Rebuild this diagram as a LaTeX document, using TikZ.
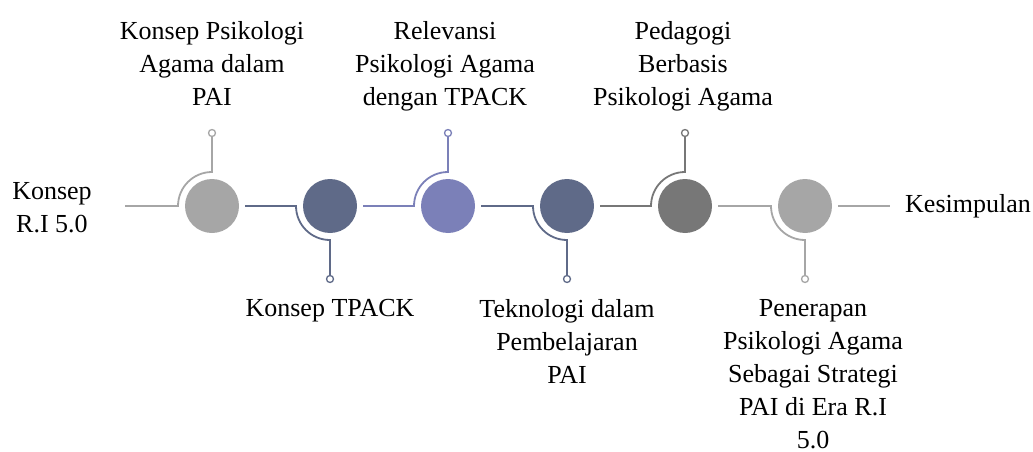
\documentclass[tikz,border=0pt]{standalone}
\usepackage{fontspec}
\setmainfont{Liberation Serif}
\usepackage{xcolor}
\usepackage{tikz}
\usetikzlibrary{positioning}
\definecolor{abu}{HTML}{A6A6A6}
\definecolor{biru}{HTML}{5F6A88}
\definecolor{ungu}{HTML}{7B80B8}
\definecolor{abutua}{HTML}{777777}

\begin{document}
\begin{tikzpicture}[
			x = 1pt, y = 1pt,
			bulat/.style = {circle, minimum size = 54pt, inner sep = 0, outer sep = 6pt},
			titik/.style = {circle, draw, fill = white, minimum size = 7pt, inner sep = 0, line width = 1.3pt},
			garis/.style = {line width = 1.8pt},
			teks/.style = {font = \fontsize{26}{33}\selectfont, align = center, inner sep = 0}]

			\useasboundingbox (0,0) rectangle (1033,451);

			\node[bulat,fill=abu] (c1) at (212,245) {};
			\node[bulat,fill=biru] (c2) at (330,245) {};
			\node[bulat,fill=ungu] (c3) at (448,245) {};
			\node[bulat,fill=biru] (c4) at (567,245) {};
			\node[bulat,fill=abutua] (c5) at (685,245) {};
			\node[bulat,fill=abu] (c6) at (805,245) {};

			\coordinate[left=34pt of c1.center] (a1);
			\coordinate[left=34pt of c2.center] (a2);
			\coordinate[left=34pt of c3.center] (a3);
			\coordinate[left=34pt of c4.center] (a4);
			\coordinate[left=34pt of c5.center] (a5);
			\coordinate[left=34pt of c6.center] (a6);

			\node[titik,draw=abu] (p1) at (212,318) {};
			\node[titik,draw=biru] (p2) at (330,172) {};
			\node[titik,draw=ungu] (p3) at (448,318) {};
			\node[titik,draw=biru] (p4) at (567,172) {};
			\node[titik,draw=abutua] (p5) at (685,318) {};
			\node[titik,draw=abu] (p6) at (805,172) {};

			\node[teks] (k0) at (52,243) {Konsep\\R.I 5.0};
			\coordinate (s0) at (125,245);
			\coordinate (s7) at (890,245);
			\node[teks,anchor=base west] (k7) at (905,239) {Kesimpulan};

			\draw[garis,abu] (s0) -- (a1) arc[start angle=180,end angle=90,radius=34pt] -- (p1);
			\draw[garis,biru] (c1) -- (a2) arc[start angle=180,end angle=270,radius=34pt] -- (p2);
			\draw[garis,ungu] (c2) -- (a3) arc[start angle=180,end angle=90,radius=34pt] -- (p3);
			\draw[garis,biru] (c3) -- (a4) arc[start angle=180,end angle=270,radius=34pt] -- (p4);
			\draw[garis,abutua] (c4) -- (a5) arc[start angle=180,end angle=90,radius=34pt] -- (p5);
			\draw[garis,abu] (c5) -- (a6) arc[start angle=180,end angle=270,radius=34pt] -- (p6);
			\draw[garis,abu] (c6) -- (s7);

			\node[teks,anchor=north] (l1) at (212,430) {Konsep Psikologi\\Agama dalam\\PAI};
			\node[teks,anchor=north] (l3) at (445,430) {Relevansi\\Psikologi Agama\\dengan TPACK};
			\node[teks,anchor=north] (l5) at (683,430) {Pedagogi\\Berbasis\\Psikologi Agama};

			\node[teks,anchor=north] (l2) at (330,152) {Konsep TPACK};
			\node[teks,anchor=north] (l4) at (567,152) {Teknologi dalam\\Pembelajaran\\PAI};
			\node[teks,anchor=north] (l6) at (813,152) {Penerapan\\Psikologi Agama\\Sebagai Strategi\\PAI di Era R.I\\5.0};

		\end{tikzpicture}
\end{document}
